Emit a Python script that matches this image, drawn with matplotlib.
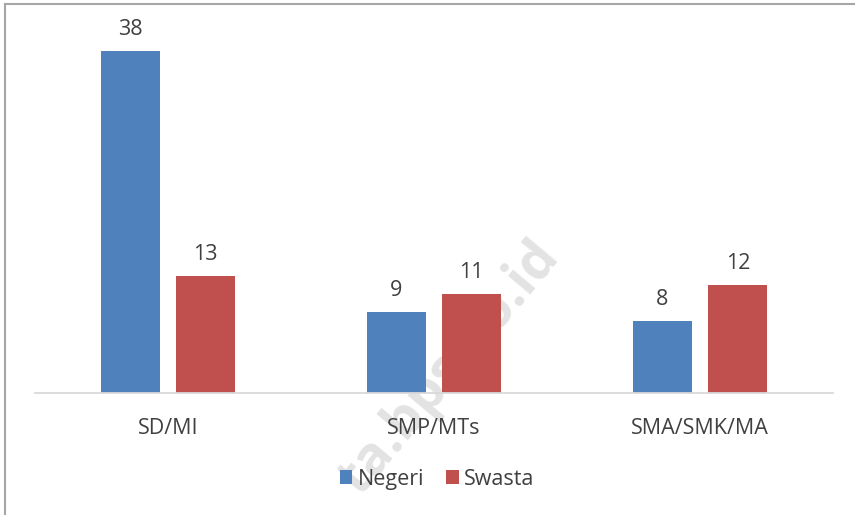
import matplotlib.pyplot as plt
import numpy as np

categories = ['SD/MI', 'SMP/MTs', 'SMA/SMK/MA']
negeri = [38, 9, 8]
swasta = [13, 11, 12]

plt.rcParams['font.family'] = ['Open Sans', 'DejaVu Sans']
txt = '#404040'

fig = plt.figure(figsize=(8.55, 5.15), dpi=100)
ax = fig.add_axes([35 / 855, 122 / 515, 798 / 855, 360 / 515])
ax.set_zorder(1)
ax.patch.set_visible(False)

x = np.arange(len(categories))
w = 0.222
off = 0.142
b1 = ax.bar(x - off, negeri, w, color='#4f81bd', label='Negeri')
b2 = ax.bar(x + off, swasta, w, color='#c0504d', label='Swasta')

for bars in (b1, b2):
    ax.bar_label(bars, padding=8, fontsize=15.5, color=txt)

ax.set_xlim(-0.5, 2.5)
ax.set_ylim(0, 40)
ax.set_yticks([])
ax.set_xticks(x)
ax.set_xticklabels(categories, fontsize=15.5, color=txt)
ax.tick_params(axis='x', length=0, pad=18)
for s in ['top', 'right', 'left']:
    ax.spines[s].set_visible(False)
ax.spines['bottom'].set_color('#d9d9d9')
ax.spines['bottom'].set_linewidth(1.3)

fig.legend(loc='center', bbox_to_anchor=(437 / 855, 1 - 479 / 515), ncol=2,
           frameon=False, fontsize=15.5, labelcolor=txt,
           handlelength=0.6, handleheight=0.6, handletextpad=0.25, columnspacing=1.0)

# watermark, behind the chart
fig.text(450 / 855, 1 - 368 / 515, 'ta.bps.go.id', rotation=50, fontsize=39,
         fontweight='bold', color='#e3e3e3', ha='center', va='center', zorder=0)

# outer border (only top and left visible in the crop)
fig.add_artist(plt.Line2D([5 / 855, 1], [1 - 4 / 515, 1 - 4 / 515], transform=fig.transFigure,
                          color='#a6a6a6', lw=1.5))
fig.add_artist(plt.Line2D([5 / 855, 5 / 855], [0, 1 - 4 / 515], transform=fig.transFigure,
                          color='#a6a6a6', lw=1.5))

fig.savefig('out.png', dpi=100)
